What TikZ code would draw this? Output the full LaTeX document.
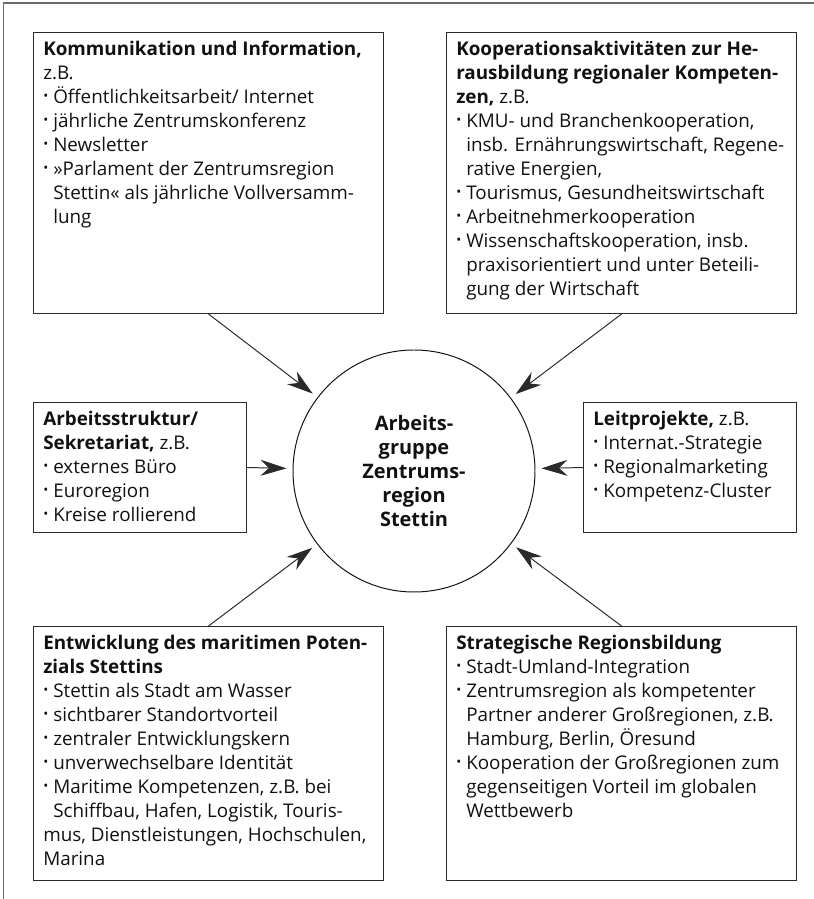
\documentclass[tikz,border=0pt]{standalone}
\usepackage{fontspec}
\setmainfont{Open Sans}
\usetikzlibrary{arrows.meta,positioning}
\definecolor{zrink}{HTML}{111111}
\definecolor{zrline}{HTML}{2A2A2A}
\definecolor{zrframe}{HTML}{6A6A6A}
\newcommand\itm{\makebox[0.25cm][l]{\raisebox{0.25ex}{\scalebox{0.7}{\textbullet}}}}
\newcommand\hang{\hspace*{0.25cm}}
\tikzset{
  zr text/.style={font=\fontsize{13.4}{17.07}\selectfont, text=zrink},
  zr box/.style={draw=zrline, line width=0.75pt, anchor=north west, inner sep=0pt},
  zr body/.style={anchor=north west, inner sep=0.25cm, inner ysep=0.22cm, align=left},
  zr hub/.style={circle, draw=zrink, line width=0.7pt, minimum size=6.05cm,
    align=center, font=\fontsize{14.2}{17.07}\selectfont\bfseries},
  zr arrow/.style={-{Stealth[length=6.5mm,width=4mm]}, line width=0.7pt,
    draw=zrline, shorten >=0.15cm},
  zr frame/.style={draw=zrframe, line width=1pt}
}

\begin{document}
\begin{tikzpicture}[zr text, x=1cm, y=1cm]
  \useasboundingbox (0,0) rectangle (20.35,22.475);
  \draw[zr frame] (0.09,0) -- (0.09,22.4) -- (20.35,22.4);
  % centre
  \node[zr hub] (hub) at (10.35,10.7) {Arbeits-\\gruppe\\Zentrums-\\region\\Stettin};
  % upper boxes
  \node[zr box, minimum width=8.75cm, minimum height=7.025cm] (kom) at (0.825,21.675) {};
  \node[zr body] (komtext) at (kom.north west) {%
    \textbf{Kommunikation und Information,}\\
    z.B.\\
    \itm Öffentlichkeitsarbeit/ Internet\\
    \itm jährliche Zentrumskonferenz\\
    \itm Newsletter\\
    \itm »Parlament der Zentrumsregion\\
    \hang Stettin« als jährliche Vollversamm-\\
    \hang lung};
  \node[zr box, minimum width=8.75cm, minimum height=7.025cm] (koop) at (11.15,21.675) {};
  \node[zr body] (kooptext) at (koop.north west) {%
    \textbf{Kooperationsaktivitäten zur He-}\\
    \textbf{rausbildung regionaler Kompeten-}\\
    \textbf{zen,} z.B.\\
    \itm KMU- und Branchenkooperation,\\
    \hang insb. Ernährungswirtschaft, Regene-\\
    \hang rative Energien,\\
    \itm Tourismus, Gesundheitswirtschaft\\
    \itm Arbeitnehmerkooperation\\
    \itm Wissenschaftskooperation, insb.\\
    \hang praxisorientiert und unter Beteili-\\
    \hang gung der Wirtschaft};
  % side boxes
  \node[zr box, minimum width=5.325cm, minimum height=3.25cm] (sek) at (0.825,12.425) {};
  \node[zr body] (sektext) at (sek.north west) {%
    \textbf{Arbeitsstruktur/}\\
    \textbf{Sekretariat,} z.B.\\
    \itm externes Büro\\
    \itm Euroregion\\
    \itm Kreise rollierend};
  \node[zr box, minimum width=5.325cm, minimum height=3.25cm] (leit) at (14.575,12.425) {};
  \node[zr body] (leittext) at (leit.north west) {%
    \textbf{Leitprojekte,} z.B.\\
    \itm Internat.-Strategie\\
    \itm Regionalmarketing\\
    \itm Kompetenz-Cluster};
  % lower boxes
  \node[zr box, minimum width=8.75cm, minimum height=6.35cm] (mar) at (0.825,6.825) {};
  \node[zr body] (martext) at (mar.north west) {%
    \textbf{Entwicklung des maritimen Poten-}\\
    \textbf{zials Stettins}\\
    \itm Stettin als Stadt am Wasser\\
    \itm sichtbarer Standortvorteil\\
    \itm zentraler Entwicklungskern\\
    \itm unverwechselbare Identität\\
    \itm Maritime Kompetenzen, z.B. bei\\
    \hang Schiffbau, Hafen, Logistik, Touris-\\
    mus, Dienstleistungen, Hochschulen,\\
    Marina};
  \node[zr box, minimum width=8.75cm, minimum height=6.35cm] (strat) at (11.15,6.825) {};
  \node[zr body] (strattext) at (strat.north west) {%
    \textbf{Strategische Regionsbildung}\\
    \itm Stadt-Umland-Integration\\
    \itm Zentrumsregion als kompetenter\\
    \hang Partner anderer Großregionen, z.B.\\
    \hang Hamburg, Berlin, Öresund\\
    \itm Kooperation der Großregionen zum\\
    \hang gegenseitigen Vorteil im globalen\\
    \hang Wettbewerb};
  % arrows into the hub
  \draw[zr arrow] (kom.south) -- (hub);
  \draw[zr arrow] (koop.south) -- (hub);
  \draw[zr arrow] (sek.east) -- (hub);
  \draw[zr arrow] (leit.west) -- (hub);
  \draw[zr arrow] (mar.north) -- (hub);
  \draw[zr arrow] (strat.north) -- (hub);
\end{tikzpicture}
\end{document}
